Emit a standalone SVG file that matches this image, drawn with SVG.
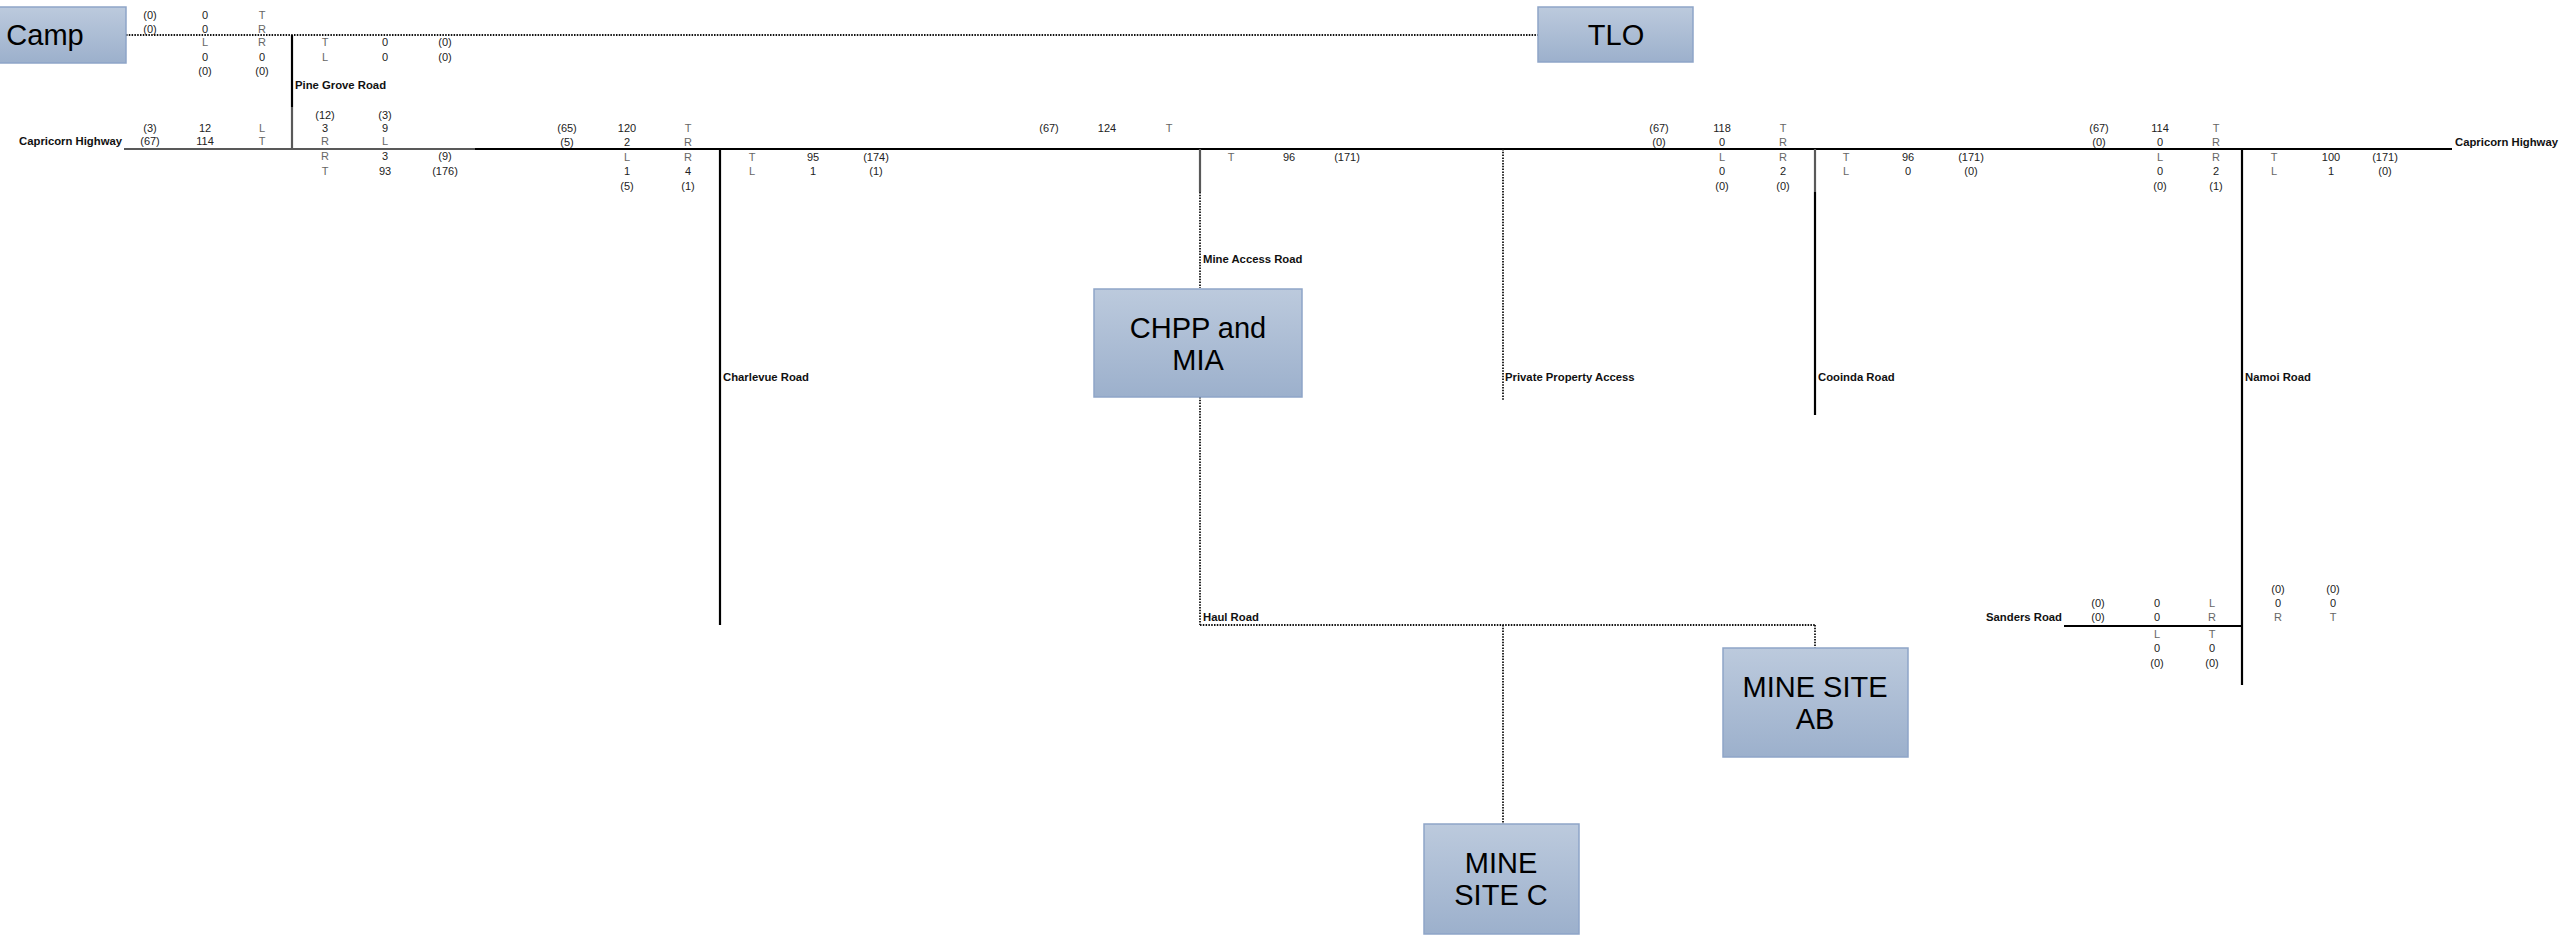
<svg xmlns="http://www.w3.org/2000/svg" width="2573" height="938" viewBox="0 0 2573 938">
<defs>
<linearGradient id="boxg" x1="0" y1="0" x2="0" y2="1">
<stop offset="0" stop-color="#bccadd"/>
<stop offset="1" stop-color="#9cb0cc"/>
</linearGradient>
<style>
.box{fill:url(#boxg);stroke:#8ea5c8;stroke-width:1.5}
.bt{font-family:"Liberation Sans",Arial,sans-serif;font-size:29px;fill:#000;text-anchor:middle}
.n{font-family:"Liberation Sans",Arial,sans-serif;font-size:11px;fill:#222;text-anchor:middle}
.l{font-family:"Liberation Sans",Arial,sans-serif;font-size:11px;fill:#666;text-anchor:middle}
.rd{font-family:"Liberation Sans",Arial,sans-serif;font-size:11.3px;font-weight:bold;fill:#111}
.blk{stroke:#000;stroke-width:2.2;fill:none}
.gry{stroke:#595959;stroke-width:2.2;fill:none}
.dot{stroke:#111;stroke-width:1.8;stroke-dasharray:1.5 1.3;fill:none}
</style>
</defs>
<rect width="2573" height="938" fill="#fff"/>

<g id="connectors">
<line class="dot" x1="126" y1="35" x2="1538" y2="35"/>
<line class="blk" x1="292" y1="35" x2="292" y2="107"/>
<line class="gry" x1="292" y1="107" x2="292" y2="149"/>
<line class="gry" x1="124" y1="149" x2="475" y2="149"/>
<line class="blk" x1="475" y1="149" x2="2452" y2="149"/>
<line class="blk" x1="720" y1="149" x2="720" y2="625"/>
<line class="gry" x1="1200" y1="149" x2="1200" y2="192"/>
<line class="dot" x1="1200" y1="192" x2="1200" y2="288"/>
<line class="dot" x1="1200" y1="397" x2="1200" y2="625"/>
<line class="dot" x1="1200" y1="625" x2="1815" y2="625"/>
<line class="dot" x1="1815" y1="625" x2="1815" y2="648"/>
<line class="dot" x1="1503" y1="625" x2="1503" y2="824"/>
<line class="dot" x1="1503" y1="149" x2="1503" y2="400"/>
<line class="gry" x1="1815" y1="149" x2="1815" y2="192"/>
<line class="blk" x1="1815" y1="192" x2="1815" y2="415"/>
<line class="blk" x1="2242" y1="149" x2="2242" y2="685"/>
<line class="blk" x1="2064" y1="626" x2="2242" y2="626"/>
</g>

<g id="road-labels">
<text class="rd" x="122" y="145" text-anchor="end">Capricorn Highway</text>
<text class="rd" x="2455" y="146">Capricorn Highway</text>
<text class="rd" x="295" y="89">Pine Grove Road</text>
<text class="rd" x="723" y="381">Charlevue Road</text>
<text class="rd" x="1203" y="263">Mine Access Road</text>
<text class="rd" x="1505" y="381">Private Property Access</text>
<text class="rd" x="1818" y="381">Cooinda Road</text>
<text class="rd" x="2245" y="381">Namoi Road</text>
<text class="rd" x="1203" y="621">Haul Road</text>
<text class="rd" x="2062" y="621" text-anchor="end">Sanders Road</text>
</g>

<g id="node-camp">
<rect class="box" x="-40" y="7" width="166" height="56"/>
<text class="bt" x="45" y="45">Camp</text>
</g>
<g id="node-tlo">
<rect class="box" x="1538" y="7" width="155" height="55"/>
<text class="bt" x="1616" y="45">TLO</text>
</g>
<g id="node-chpp">
<rect class="box" x="1094" y="289" width="208" height="108"/>
<text class="bt" x="1198" y="338">CHPP and</text>
<text class="bt" x="1198" y="370">MIA</text>
</g>
<g id="node-mine-ab">
<rect class="box" x="1723" y="648" width="185" height="109"/>
<text class="bt" x="1815" y="697">MINE SITE</text>
<text class="bt" x="1815" y="729">AB</text>
</g>
<g id="node-mine-c">
<rect class="box" x="1424" y="824" width="155" height="110"/>
<text class="bt" x="1501" y="873">MINE</text>
<text class="bt" x="1501" y="905">SITE C</text>
</g>

<g id="int-camp">
<text class="n" x="150" y="19">(0)</text><text class="n" x="205" y="19">0</text><text class="l" x="262" y="19">T</text>
<text class="n" x="150" y="33">(0)</text><text class="n" x="205" y="33">0</text><text class="l" x="262" y="33">R</text>
<text class="l" x="205" y="46">L</text><text class="l" x="262" y="46">R</text><text class="l" x="325" y="46">T</text><text class="n" x="385" y="46">0</text><text class="n" x="445" y="46">(0)</text>
<text class="n" x="205" y="61">0</text><text class="n" x="262" y="61">0</text><text class="l" x="325" y="61">L</text><text class="n" x="385" y="61">0</text><text class="n" x="445" y="61">(0)</text>
<text class="n" x="205" y="75">(0)</text><text class="n" x="262" y="75">(0)</text>
</g>

<g id="int-pinegrove">
<text class="n" x="325" y="119">(12)</text><text class="n" x="385" y="119">(3)</text>
<text class="n" x="150" y="132">(3)</text><text class="n" x="205" y="132">12</text><text class="l" x="262" y="132">L</text><text class="n" x="325" y="132">3</text><text class="n" x="385" y="132">9</text>
<text class="n" x="150" y="145">(67)</text><text class="n" x="205" y="145">114</text><text class="l" x="262" y="145">T</text><text class="l" x="325" y="145">R</text><text class="l" x="385" y="145">L</text>
<text class="l" x="325" y="160">R</text><text class="n" x="385" y="160">3</text><text class="n" x="445" y="160">(9)</text>
<text class="l" x="325" y="175">T</text><text class="n" x="385" y="175">93</text><text class="n" x="445" y="175">(176)</text>
</g>

<g id="int-charlevue">
<text class="n" x="567" y="132">(65)</text><text class="n" x="627" y="132">120</text><text class="l" x="688" y="132">T</text>
<text class="n" x="567" y="146">(5)</text><text class="n" x="627" y="146">2</text><text class="l" x="688" y="146">R</text>
<text class="l" x="627" y="161">L</text><text class="l" x="688" y="161">R</text><text class="l" x="752" y="161">T</text><text class="n" x="813" y="161">95</text><text class="n" x="876" y="161">(174)</text>
<text class="n" x="627" y="175">1</text><text class="n" x="688" y="175">4</text><text class="l" x="752" y="175">L</text><text class="n" x="813" y="175">1</text><text class="n" x="876" y="175">(1)</text>
<text class="n" x="627" y="190">(5)</text><text class="n" x="688" y="190">(1)</text>
</g>

<g id="int-mineaccess">
<text class="n" x="1049" y="132">(67)</text><text class="n" x="1107" y="132">124</text><text class="l" x="1169" y="132">T</text>
<text class="l" x="1231" y="161">T</text><text class="n" x="1289" y="161">96</text><text class="n" x="1347" y="161">(171)</text>
</g>

<g id="int-cooinda">
<text class="n" x="1659" y="132">(67)</text><text class="n" x="1722" y="132">118</text><text class="l" x="1783" y="132">T</text>
<text class="n" x="1659" y="146">(0)</text><text class="n" x="1722" y="146">0</text><text class="l" x="1783" y="146">R</text>
<text class="l" x="1722" y="161">L</text><text class="l" x="1783" y="161">R</text><text class="l" x="1846" y="161">T</text><text class="n" x="1908" y="161">96</text><text class="n" x="1971" y="161">(171)</text>
<text class="n" x="1722" y="175">0</text><text class="n" x="1783" y="175">2</text><text class="l" x="1846" y="175">L</text><text class="n" x="1908" y="175">0</text><text class="n" x="1971" y="175">(0)</text>
<text class="n" x="1722" y="190">(0)</text><text class="n" x="1783" y="190">(0)</text>
</g>

<g id="int-namoi">
<text class="n" x="2099" y="132">(67)</text><text class="n" x="2160" y="132">114</text><text class="l" x="2216" y="132">T</text>
<text class="n" x="2099" y="146">(0)</text><text class="n" x="2160" y="146">0</text><text class="l" x="2216" y="146">R</text>
<text class="l" x="2160" y="161">L</text><text class="l" x="2216" y="161">R</text><text class="l" x="2274" y="161">T</text><text class="n" x="2331" y="161">100</text><text class="n" x="2385" y="161">(171)</text>
<text class="n" x="2160" y="175">0</text><text class="n" x="2216" y="175">2</text><text class="l" x="2274" y="175">L</text><text class="n" x="2331" y="175">1</text><text class="n" x="2385" y="175">(0)</text>
<text class="n" x="2160" y="190">(0)</text><text class="n" x="2216" y="190">(1)</text>
</g>

<g id="int-sanders">
<text class="n" x="2278" y="593">(0)</text><text class="n" x="2333" y="593">(0)</text>
<text class="n" x="2098" y="607">(0)</text><text class="n" x="2157" y="607">0</text><text class="l" x="2212" y="607">L</text><text class="n" x="2278" y="607">0</text><text class="n" x="2333" y="607">0</text>
<text class="n" x="2098" y="621">(0)</text><text class="n" x="2157" y="621">0</text><text class="l" x="2212" y="621">R</text><text class="l" x="2278" y="621">R</text><text class="l" x="2333" y="621">T</text>
<text class="l" x="2157" y="638">L</text><text class="l" x="2212" y="638">T</text>
<text class="n" x="2157" y="652">0</text><text class="n" x="2212" y="652">0</text>
<text class="n" x="2157" y="667">(0)</text><text class="n" x="2212" y="667">(0)</text>
</g>
</svg>
